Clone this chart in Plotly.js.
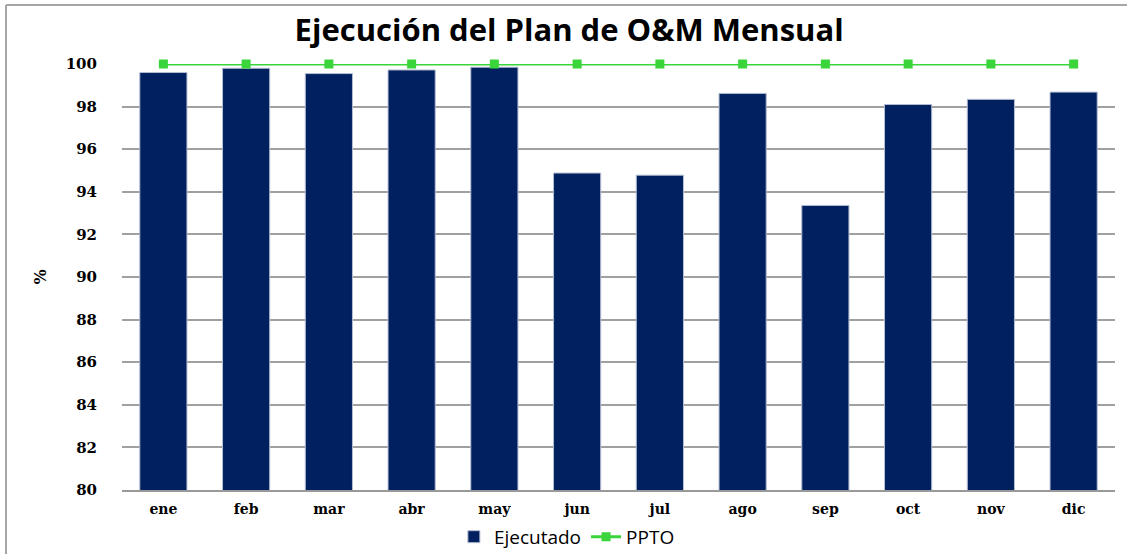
<!DOCTYPE html>
<html>
<head>
<meta charset="utf-8">
<script src="https://cdn.plot.ly/plotly-3.0.1.min.js"></script>
<style>html,body{margin:0;padding:0;background:#fff;}#chart{width:1127px;height:554px;}</style>
</head>
<body>
<div id="chart"></div>
<script>
const months = ["ene","feb","mar","abr","may","jun","jul","ago","sep","oct","nov","dic"];
const ejecutado = [99.6, 99.8, 99.55, 99.72, 99.85, 94.88, 94.78, 98.62, 93.36, 98.1, 98.34, 98.68];
const ppto = [100,100,100,100,100,100,100,100,100,100,100,100];
const yTicks = [80,82,84,86,88,90,92,94,96,98,100];

const traces = [
  {
    type: "bar", name: "Ejecutado", x: months, y: ejecutado,
    marker: {color: "#00205f", line: {color: "#b4bdd2", width: 1}}
  },
  {
    type: "scatter", mode: "lines+markers", name: "PPTO", x: months, y: ppto,
    line: {color: "#3ad53a", width: 3},
    marker: {symbol: "square", size: 9, color: "#3ad53a"},
    cliponaxis: false
  }
];

const layout = {
  width: 1127, height: 554,
  margin: {l: 122, r: 12, t: 64, b: 64, autoexpand: false},
  paper_bgcolor: "#fff", plot_bgcolor: "#fff",
  bargap: 0.43,
  title: {text: "Ejecución del Plan de O&M Mensual", x: 0.505, xanchor: "center", y: 0.945, yanchor: "middle",
          font: {family: "Open Sans", size: 31, color: "#000", weight: 700}},
  xaxis: {
    type: "category", range: [-0.5, months.length - 0.5], showgrid: false, showline: true, linecolor: "#999", linewidth: 2,
    ticks: "", ticklabelstandoff: 5, automargin: false,
    tickfont: {family: "DejaVu Serif", size: 14, color: "#000", weight: 700}
  },
  yaxis: {
    range: [80, 100], tickvals: yTicks, ticktext: yTicks.map(String), automargin: false,
    showgrid: true, gridcolor: "#a0a0a0", gridwidth: 2, zeroline: false, showline: false,
    ticks: "", ticklabelstandoff: 24,
    tickfont: {family: "DejaVu Serif", size: 15, color: "#000", weight: 700},
    title: {text: "%", standoff: 15, font: {family: "DejaVu Serif", size: 16, color: "#000", weight: 700}}
  },
  legend: {orientation: "h", x: 0.503, xanchor: "center", xref: "container", yref: "container", y: 0.031, yanchor: "middle",
           font: {family: "Open Sans", size: 19, color: "#000"}, itemwidth: 30},
  showlegend: true,
  shapes: [
    {type: "line", xref: "paper", yref: "paper", x0: -0.1168, x1: 1.02, y0: 1.1385, y1: 1.1385, line: {color: "#a6a6a6", width: 2}},
    {type: "line", xref: "paper", yref: "paper", x0: -0.1168, x1: -0.1168, y0: 1.1385, y1: -0.16, line: {color: "#a6a6a6", width: 2}}
  ]
};

Plotly.newPlot("chart", traces, layout, {displayModeBar: false, staticPlot: true});
</script>
</body>
</html>
